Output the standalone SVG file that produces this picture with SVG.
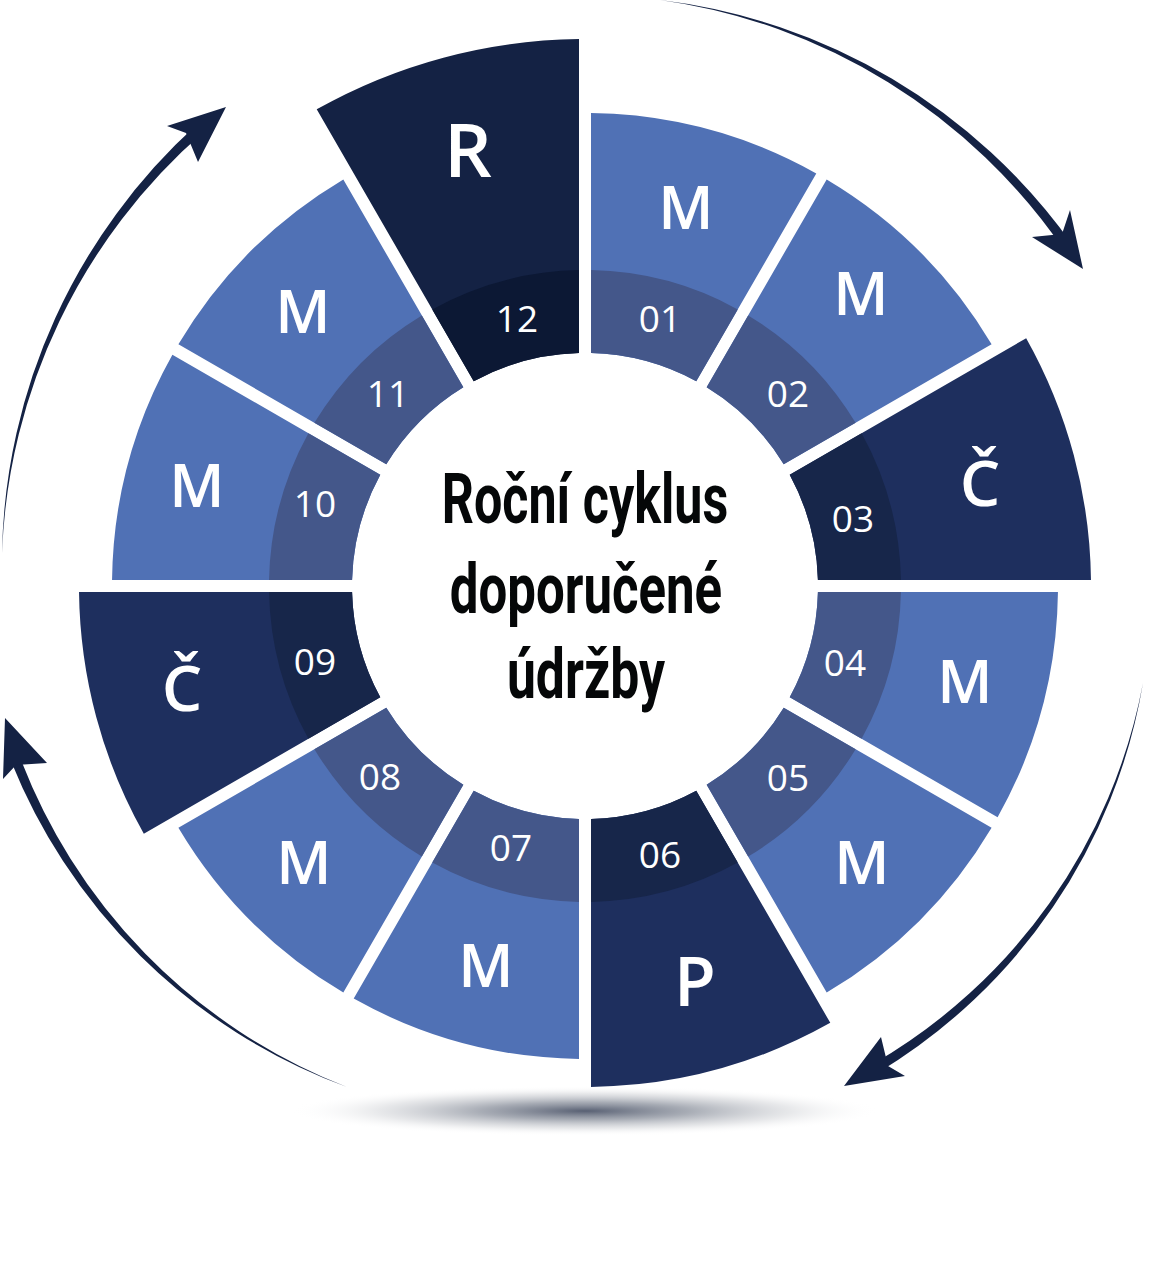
<svg xmlns="http://www.w3.org/2000/svg" width="1166" height="1273" viewBox="0 0 1166 1273">
<style>
.m{fill:#5071b5}.mb{fill:#44578a}
.d{fill:#1e2f5e}.db{fill:#17264a}
.r{fill:#142244}.rb{fill:#0c1834}
.arrow{fill:#142244}
.big{font-family:"Open Sans","Noto Sans",sans-serif;font-weight:600;fill:#fff;text-anchor:middle}
.num{font-family:"Open Sans","Noto Sans",sans-serif;font-weight:400;font-size:37px;fill:#fff;text-anchor:middle}
.title{font-family:Roboto,"Liberation Sans",sans-serif;font-weight:700;font-size:71px;fill:#050708;text-anchor:middle}
</style>
<defs>
<radialGradient id="sh" cx="0.5" cy="0.5" r="0.5">
<stop offset="0" stop-color="#586073" stop-opacity="1"/>
<stop offset="0.35" stop-color="#8a909c" stop-opacity="0.75"/>
<stop offset="0.7" stop-color="#d0d2d6" stop-opacity="0.5"/>
<stop offset="1" stop-color="#ffffff" stop-opacity="0"/>
</radialGradient>
<path id="sM" d="M6,-232.92 L6,-472.96 A473 473 0 0 1 231.29,-412.6 L111.26,-204.72 A233 233 0 0 0 6,-232.92 Z"/>
<path id="sC" d="M6,-232.92 L6,-505.96 A506 506 0 0 1 247.79,-441.19 L111.26,-204.72 A233 233 0 0 0 6,-232.92 Z"/>
<path id="sP" d="M6,-232.92 L6,-500.96 A501 501 0 0 1 245.29,-436.86 L111.26,-204.72 A233 233 0 0 0 6,-232.92 Z"/>
<path id="sR" d="M6,-232.92 L6,-546.97 A547 547 0 0 1 268.29,-476.7 L111.26,-204.72 A233 233 0 0 0 6,-232.92 Z"/>
<path id="band" d="M6,-232.92 L6,-315.94 A316 316 0 0 1 152.78,-276.61 L111.26,-204.72 A233 233 0 0 0 6,-232.92 Z"/>
</defs>

<ellipse id="shadow" cx="585" cy="1111" rx="295" ry="25" fill="url(#sh)"/>

<g id="seg01">
<g transform="translate(585 586) rotate(0)"><use href="#sM" class="m"/><use href="#band" class="mb"/></g>
<text class="big" x="686" y="229" font-size="60">M</text>
<text class="num" x="660" y="332">01</text>
</g>
<g id="seg02">
<g transform="translate(585 586) rotate(30)"><use href="#sM" class="m"/><use href="#band" class="mb"/></g>
<text class="big" x="861" y="315" font-size="60">M</text>
<text class="num" x="788" y="407">02</text>
</g>
<g id="seg03">
<g transform="translate(585 586) rotate(60)"><use href="#sC" class="d"/><use href="#band" class="db"/></g>
<text class="big" x="980" y="506" font-size="64">Č</text>
<text class="num" x="853" y="532">03</text>
</g>
<g id="seg04">
<g transform="translate(585 586) rotate(90)"><use href="#sM" class="m"/><use href="#band" class="mb"/></g>
<text class="big" x="965" y="703" font-size="60">M</text>
<text class="num" x="845" y="676">04</text>
</g>
<g id="seg05">
<g transform="translate(585 586) rotate(120)"><use href="#sM" class="m"/><use href="#band" class="mb"/></g>
<text class="big" x="862" y="884" font-size="60">M</text>
<text class="num" x="788" y="791">05</text>
</g>
<g id="seg06">
<g transform="translate(585 586) rotate(150)"><use href="#sP" class="d"/><use href="#band" class="db"/></g>
<text class="big" x="695" y="1006" font-size="68">P</text>
<text class="num" x="660" y="868">06</text>
</g>
<g id="seg07">
<g transform="translate(585 586) rotate(180)"><use href="#sM" class="m"/><use href="#band" class="mb"/></g>
<text class="big" x="486" y="987" font-size="60">M</text>
<text class="num" x="511" y="861">07</text>
</g>
<g id="seg08">
<g transform="translate(585 586) rotate(210)"><use href="#sM" class="m"/><use href="#band" class="mb"/></g>
<text class="big" x="304" y="884" font-size="60">M</text>
<text class="num" x="380" y="790">08</text>
</g>
<g id="seg09">
<g transform="translate(585 586) rotate(240)"><use href="#sC" class="d"/><use href="#band" class="db"/></g>
<text class="big" x="182" y="711" font-size="64">Č</text>
<text class="num" x="315" y="675">09</text>
</g>
<g id="seg10">
<g transform="translate(585 586) rotate(270)"><use href="#sM" class="m"/><use href="#band" class="mb"/></g>
<text class="big" x="197" y="507" font-size="60">M</text>
<text class="num" x="315" y="517">10</text>
</g>
<g id="seg11">
<g transform="translate(585 586) rotate(300)"><use href="#sM" class="m"/><use href="#band" class="mb"/></g>
<text class="big" x="303" y="333" font-size="60">M</text>
<text class="num" x="388" y="407">11</text>
</g>
<g id="seg12">
<g transform="translate(585 586) rotate(330)"><use href="#sR" class="r"/><use href="#band" class="rb"/></g>
<text class="big" x="468" y="177" font-size="75">R</text>
<text class="num" x="517" y="332">12</text>
</g>

<g id="center">
<text class="title" transform="translate(585 523) scale(0.7 1)" x="0" y="0" textLength="409" lengthAdjust="spacingAndGlyphs">Roční cyklus</text>
<text class="title" transform="translate(586 613) scale(0.7 1)" x="0" y="0" textLength="389" lengthAdjust="spacingAndGlyphs">doporučené</text>
<text class="title" transform="translate(586 698) scale(0.7 1)" x="0" y="0" textLength="226" lengthAdjust="spacingAndGlyphs">údržby</text>
</g>

<g id="connectors">
<g id="arrow1">
<path class="arrow" d="M660,0 A592 592 0 0 1 1072.4,244.7 L1064.2,250.4 A588 588 0 0 0 660,0 Z"/>
<path class="arrow" d="M1083,269 L1070,210 L1062,234 L1032,237 Z"/>
</g>
<g id="arrow2">
<path class="arrow" d="M1143,683 A564 564 0 0 1 877.5,1072.9 L872.4,1064.3 A560 560 0 0 0 1143,683 Z"/>
<path class="arrow" d="M844,1086 L881,1037 L888,1066 L905,1076 Z"/>
</g>
<g id="arrow3">
<path class="arrow" d="M347,1087 A575 575 0 0 1 7.3,751.6 L16.9,748.9 A571 571 0 0 0 347,1087 Z"/>
<path class="arrow" d="M5,718 L3,779 L16,765 L47,763 Z"/>
</g>
<g id="arrow4">
<path class="arrow" d="M2,553 A592 592 0 0 1 197.4,124.1 L203.8,131.8 A588 588 0 0 0 2,553 Z"/>
<path class="arrow" d="M226,107 L198,162 L186,133 L167,126 Z"/>
</g>
</g>
</svg>
